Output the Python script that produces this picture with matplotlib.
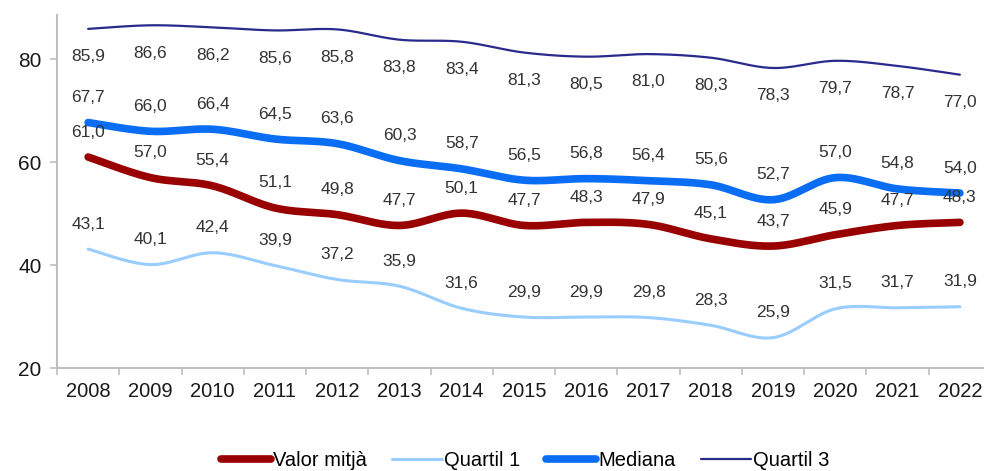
import numpy as np
import matplotlib
matplotlib.use("Agg")
import matplotlib.pyplot as plt

plt.rcParams['font.family'] = ['Liberation Sans', 'DejaVu Sans']

years = ['2008', '2009', '2010', '2011', '2012', '2013', '2014', '2015',
         '2016', '2017', '2018', '2019', '2020', '2021', '2022']
valor_mitja = [61.0, 57.0, 55.4, 51.1, 49.8, 47.7, 50.1, 47.7, 48.3, 47.9, 45.1, 43.7, 45.9, 47.7, 48.3]
quartil1 = [43.1, 40.1, 42.4, 39.9, 37.2, 35.9, 31.6, 29.9, 29.9, 29.8, 28.3, 25.9, 31.5, 31.7, 31.9]
mediana = [67.7, 66.0, 66.4, 64.5, 63.6, 60.3, 58.7, 56.5, 56.8, 56.4, 55.6, 52.7, 57.0, 54.8, 54.0]
quartil3 = [85.9, 86.6, 86.2, 85.6, 85.8, 83.8, 83.4, 81.3, 80.5, 81.0, 80.3, 78.3, 79.7, 78.7, 77.0]


def smooth(y, n=30):
    # catmull-rom curve through the points, like Excel's smoothed line
    y = np.asarray(y, float)
    x = np.arange(len(y), dtype=float)
    px = np.concatenate([[x[0]], x, [x[-1]]])
    py = np.concatenate([[y[0]], y, [y[-1]]])
    xs, ys = [], []
    for i in range(1, len(px) - 2):
        t = np.linspace(0, 1, n, endpoint=False)
        for arr, out in ((px, xs), (py, ys)):
            p0, p1, p2, p3 = arr[i - 1], arr[i], arr[i + 1], arr[i + 2]
            out.append(0.5 * (2 * p1 + (-p0 + p2) * t
                              + (2 * p0 - 5 * p1 + 4 * p2 - p3) * t ** 2
                              + (-p0 + 3 * p1 - 3 * p2 + p3) * t ** 3))
    xs.append([x[-1]])
    ys.append([y[-1]])
    return np.concatenate(xs), np.concatenate(ys)


fig = plt.figure(figsize=(9.84, 4.71), dpi=100)
ax = fig.add_axes([57 / 984, 1 - 368 / 471, 934 / 984, (368 - 15) / 471])

series = [
    (valor_mitja, 'Valor mitjà', '#990000', 5.5, 18),
    (quartil1, 'Quartil 1', '#99CCFF', 2.2, 18),
    (mediana, 'Mediana', '#0A6EF5', 5.5, 18),
    (quartil3, 'Quartil 3', '#2A2A8C', 1.6, -20),
]

x = np.arange(len(years))
for vals, name, col, lw, off in series:
    sx, sy = smooth(vals)
    ax.plot(sx, sy, color=col, lw=lw, label=name, solid_capstyle='round')
    for xi, v in zip(x, vals):
        ax.annotate(f"{v:.1f}".replace('.', ','), (xi, v), xytext=(0, off),
                    textcoords='offset points', ha='center', va='center',
                    fontsize=12.5, color='#333333')

ax.set_xlim(-0.5, 14.5)
ax.set_ylim(20, 88.6)
ax.set_yticks([20, 40, 60, 80])
ax.set_xticks(x)
ax.set_xticklabels(years)
ax.set_xticks(np.arange(-0.5, 15, 1), minor=True)
ax.tick_params(axis='x', which='major', length=0, pad=10, labelsize=14.5, colors='#1a1a1a')
ax.tick_params(axis='x', which='minor', length=5, color='#BFBFBF', width=1.2)
ax.tick_params(axis='y', length=5, color='#BFBFBF', width=1.2, pad=6, labelsize=15, labelcolor='#1a1a1a')
for s in ['top', 'right']:
    ax.spines[s].set_visible(False)
for s in ['left', 'bottom']:
    ax.spines[s].set_color('#BFBFBF')
    ax.spines[s].set_linewidth(1.5)

fig.legend(loc='center', bbox_to_anchor=(525 / 984, 10 / 471), ncol=4, frameon=False,
           fontsize=14.5, handlelength=2.5, handletextpad=0.1, columnspacing=1.25)

fig.savefig('out.png', dpi=100)
